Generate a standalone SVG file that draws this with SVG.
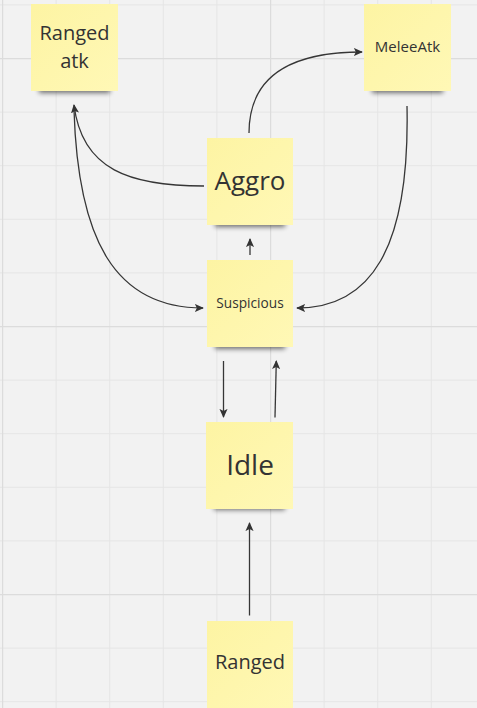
<svg xmlns="http://www.w3.org/2000/svg" width="477" height="708" viewBox="0 0 477 708">
  <defs>
    <pattern id="minor" x="2" y="4.4" width="53.6" height="53.6" patternUnits="userSpaceOnUse">
      <path d="M0,0.5 H53.6 M0.5,0 V53.6" stroke="#e5e5e5" stroke-width="1.2" fill="none"/>
    </pattern>
    <pattern id="major" x="2" y="58" width="268" height="268" patternUnits="userSpaceOnUse">
      <path d="M0,0.5 H268 M0.5,0 V268" stroke="#dcdcdc" stroke-width="1.4" fill="none"/>
    </pattern>
    <linearGradient id="paper" x1="0" y1="0" x2="1" y2="1">
      <stop offset="0" stop-color="#fdf4a3"/>
      <stop offset="1" stop-color="#fff8b6"/>
    </linearGradient>
    <filter id="blur" x="-20%" y="-100%" width="140%" height="300%">
      <feGaussianBlur stdDeviation="2.5"/>
    </filter>
    <marker id="arrow" viewBox="0 0 10 10" refX="9" refY="5" markerWidth="9" markerHeight="9" markerUnits="userSpaceOnUse" orient="auto">
      <path d="M0,0.5 L10,5 L0,9.5 L2.2,5 Z" fill="#333333"/>
    </marker>
  </defs>
  <style>
    .note { fill: url(#paper); }
    .shadow { fill: #000000; opacity: 0.55; filter: url(#blur); }
    .label { font-family: "Open Sans", "Noto Sans", "DejaVu Sans", sans-serif; fill: #333333; text-anchor: middle; }
    .conn { fill: none; stroke: #363636; stroke-width: 1.3; marker-end: url(#arrow); }
  </style>

  <rect width="477" height="708" fill="#f2f2f2"/>
  <rect width="477" height="708" fill="url(#minor)"/>
  <rect width="477" height="708" fill="url(#major)"/>

  <g id="node-ranged-atk">
    <rect class="shadow" x="39" y="86" width="71" height="7"/>
    <rect class="note" x="31" y="4" width="87" height="87"/>
    <text class="label" x="74.5" y="40" font-size="20">Ranged</text>
    <text class="label" x="74.5" y="68" font-size="20">atk</text>
  </g>

  <g id="node-melee-atk">
    <rect class="shadow" x="372" y="86" width="71" height="7"/>
    <rect class="note" x="364" y="4" width="87" height="87"/>
    <text class="label" x="407.5" y="52" font-size="15">MeleeAtk</text>
  </g>

  <g id="node-aggro">
    <rect class="shadow" x="215" y="220" width="70" height="7"/>
    <rect class="note" x="207" y="138" width="86" height="87"/>
    <text class="label" x="250" y="190" font-size="26">Aggro</text>
  </g>

  <g id="node-suspicious">
    <rect class="shadow" x="215" y="342" width="70" height="7"/>
    <rect class="note" x="207" y="260" width="86" height="87"/>
    <text class="label" x="250" y="307.5" font-size="13.7">Suspicious</text>
  </g>

  <g id="node-idle">
    <rect class="shadow" x="214" y="503" width="71" height="7"/>
    <rect class="note" x="206" y="422" width="87" height="87"/>
    <text class="label" x="250" y="475" font-size="28">Idle</text>
  </g>

  <g id="node-ranged">
    <rect class="note" x="207" y="621" width="86" height="90"/>
    <text class="label" x="250" y="669" font-size="20">Ranged</text>
  </g>

  <g id="connectors">
    <path class="conn" d="M204,186 C130,186 82,170 74,105"/>
    <path class="conn" d="M74,110 C78,240 115,308 203,308"/>
    <path class="conn" d="M249,133 C249,70 300,52 362,52"/>
    <path class="conn" d="M407,106 C410,250 370,308 297,308"/>
    <path class="conn" d="M250,255 L250,239"/>
    <path class="conn" d="M223.5,361 L223.5,417"/>
    <path class="conn" d="M275,417.5 L276.3,361"/>
    <path class="conn" d="M249.5,615.5 L249.5,523"/>
  </g>
</svg>
